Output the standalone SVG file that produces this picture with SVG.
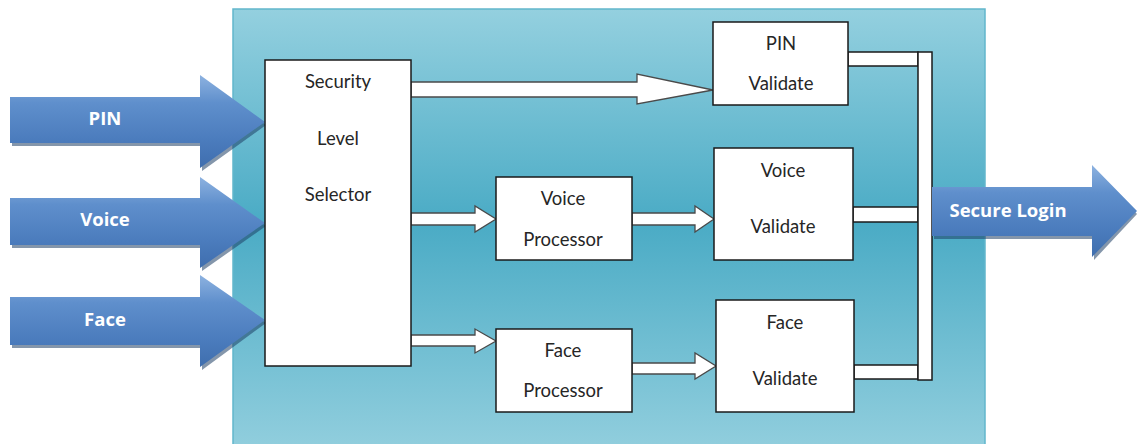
<svg xmlns="http://www.w3.org/2000/svg" width="1137" height="444" viewBox="0 0 1137 444">
  <defs>
    <linearGradient id="panelFill" x1="0" y1="0" x2="0" y2="1">
      <stop offset="0" stop-color="#94d0df"/>
      <stop offset="0.48" stop-color="#4aabc5"/>
      <stop offset="1" stop-color="#93cfde"/>
    </linearGradient>
    <linearGradient id="blueArrow" x1="0" y1="0" x2="0" y2="1">
      <stop offset="0" stop-color="#8db2e0"/>
      <stop offset="0.3" stop-color="#5f8fcc"/>
      <stop offset="0.7" stop-color="#4b7cbd"/>
      <stop offset="1" stop-color="#3f6eae"/>
    </linearGradient>
    <style>
      .box { fill: #ffffff; stroke: #1a1a1a; stroke-width: 1.5; }
      .flow { fill: #ffffff; stroke: #4a4a4a; stroke-width: 1.3; stroke-linejoin: miter; }
      .bus { fill: #ffffff; stroke: #1a1a1a; stroke-width: 1.5; }
      .big { fill: url(#blueArrow); }
      .shade { fill: #1f3f66; opacity: 0.55; }
      .lbl { font-family: Lato, "Open Sans", "Liberation Sans", sans-serif; font-size: 18.5px; fill: #262626; text-anchor: middle; }
      .io { font-family: "Open Sans", Lato, "Liberation Sans", sans-serif; font-size: 18.5px; font-weight: bold; fill: #ffffff; text-anchor: middle; }
    </style>
  </defs>

  <!-- system panel -->
  <rect x="233" y="9" width="752" height="445" fill="url(#panelFill)" stroke="#62b6cc" stroke-width="1.5"/>

  <!-- inputs -->
  <g id="input-pin">
    <path class="shade" d="M12,100 H202 V78 L266,125 L202,171 V146 H12 Z"/>
    <path class="big" d="M10,97 H200 V75 L265,122 L200,168 V143 H10 Z"/>
    <text class="io" x="105" y="125">PIN</text>
  </g>
  <g id="input-voice">
    <path class="shade" d="M12,201 H202 V180 L266,226 L202,271 V248 H12 Z"/>
    <path class="big" d="M10,198 H200 V177 L265,223 L200,268 V245 H10 Z"/>
    <text class="io" x="105" y="226">Voice</text>
  </g>
  <g id="input-face">
    <path class="shade" d="M12,300 H202 V278 L266,323 L202,370 V348 H12 Z"/>
    <path class="big" d="M10,297 H200 V275 L265,320 L200,367 V345 H10 Z"/>
    <text class="io" x="105" y="326">Face</text>
  </g>

  <!-- connectors -->
  <g id="connectors">
    <path class="flow" d="M411,82 H637 V74 L713,90 L637,104 V97 H411 Z"/>
    <path class="flow" d="M411,213 H475 V206 L496,219 L475,232 V225 H411 Z"/>
    <path class="flow" d="M632,213 H695 V206 L714,219 L695,232 V225 H632 Z"/>
    <path class="flow" d="M411,335 H475 V329 L496,341 L475,353 V346 H411 Z"/>
    <path class="flow" d="M632,363 H695 V353 L716,366 L695,379 V374 H632 Z"/>
    <rect class="bus" x="848" y="52" width="70" height="14"/>
    <rect class="bus" x="853" y="207" width="65" height="15"/>
    <rect class="bus" x="854" y="365" width="64" height="14"/>
    <rect class="bus" x="918" y="52" width="14" height="328"/>
  </g>

  <!-- processing blocks -->
  <g id="security-level-selector">
    <rect class="box" x="265" y="60" width="146" height="306"/>
    <text class="lbl" x="338" y="88">Security</text>
    <text class="lbl" x="338" y="145">Level</text>
    <text class="lbl" x="338" y="201">Selector</text>
  </g>
  <g id="voice-processor">
    <rect class="box" x="496" y="177" width="136" height="83"/>
    <text class="lbl" x="563" y="205">Voice</text>
    <text class="lbl" x="563" y="246">Processor</text>
  </g>
  <g id="face-processor">
    <rect class="box" x="496" y="329" width="136" height="83"/>
    <text class="lbl" x="563" y="357">Face</text>
    <text class="lbl" x="563" y="397">Processor</text>
  </g>
  <g id="pin-validate">
    <rect class="box" x="713" y="22" width="135" height="83"/>
    <text class="lbl" x="781" y="50">PIN</text>
    <text class="lbl" x="781" y="90">Validate</text>
  </g>
  <g id="voice-validate">
    <rect class="box" x="714" y="148" width="139" height="112"/>
    <text class="lbl" x="783" y="177">Voice</text>
    <text class="lbl" x="783" y="233">Validate</text>
  </g>
  <g id="face-validate">
    <rect class="box" x="716" y="300" width="138" height="112"/>
    <text class="lbl" x="785" y="329">Face</text>
    <text class="lbl" x="785" y="385">Validate</text>
  </g>

  <!-- output -->
  <g id="output-secure-login">
    <path class="shade" d="M934,190 H1094 V168 L1137,214 L1094,260 V239 H934 Z"/>
    <path class="big" d="M932,187 H1092 V165 L1137,211 L1092,257 V236 H932 Z"/>
    <text class="io" x="1008" y="217">Secure Login</text>
  </g>
</svg>
